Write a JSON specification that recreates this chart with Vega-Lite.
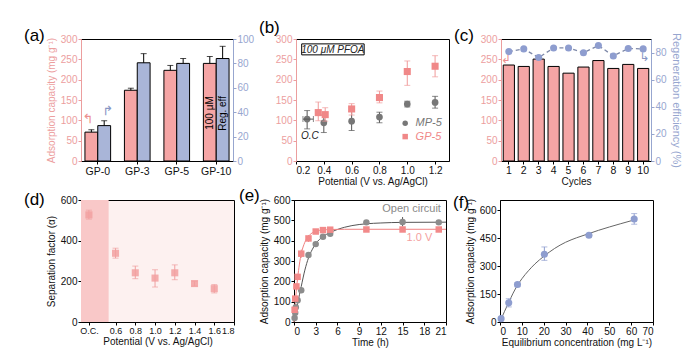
{
 "$schema": "https://vega.github.io/schema/vega-lite/v6.json",
 "padding": {"left": 23, "top": 18, "right": 0, "bottom": 0},
 "background": "white",
 "config": {
  "font": "Liberation Sans",
  "view": {"stroke": "black", "strokeWidth": 1},
  "axis": {"labelFontSize": 10, "titleFontSize": 10, "titleFontWeight": "normal", "labelColor": "#111", "titleColor": "#111", "domainColor": "black", "tickColor": "black", "tickSize": 3, "grid": false, "labelPadding": 1, "titlePadding": 1, "labelOverlap": false},
  "title": {"fontSize": 17, "fontWeight": "normal", "anchor": "start", "frame": "group", "baseline": "middle", "offset": 0, "color": "black"}
 },
 "spacing": -1,
 "vconcat": [
  {
   "spacing": 3,
   "hconcat": [
    {
     "width": 152, "height": 122,
     "title": {"text": "(a)", "dx": -57, "dy": 15},
     "layer": [
      {
       "data": {"values": [
        {"g": "GP-0", "s": "cap", "v": 71, "hi": 77},
        {"g": "GP-3", "s": "cap", "v": 174, "hi": 179},
        {"g": "GP-5", "s": "cap", "v": 223, "hi": 235},
        {"g": "GP-10", "s": "cap", "v": 240, "hi": 257}
       ]},
       "encoding": {
        "x": {"field": "g", "type": "nominal", "scale": {"domain": ["GP-0", "GP-3", "GP-5", "GP-10"], "paddingInner": 0.35, "paddingOuter": 0.1}, "axis": {"title": null, "labelAngle": 0, "labelFontSize": 10.5, "labelPadding": 2}},
        "xOffset": {"field": "s", "type": "nominal", "scale": {"domain": ["cap", "eff"], "paddingInner": 0, "paddingOuter": 0}},
        "y": {"field": "v", "type": "quantitative", "scale": {"domain": [0, 300], "nice": false}, "axis": {"orient": "left", "title": "Adsorption capacity (mg g⁻¹)", "titlePadding": 4, "labelOverlap": false, "values": [0, 50, 100, 150, 200, 250, 300], "titleColor": "#ec9e9e", "labelColor": "#ec9e9e", "domainColor": "#ec9e9e", "tickColor": "#ec9e9e"}}
       },
       "layer": [
        {"mark": {"type": "bar", "fill": "#f5a5a5", "stroke": "black", "strokeWidth": 1}},
        {"mark": {"type": "rule", "color": "black"}, "encoding": {"y2": {"field": "hi"}}},
        {"mark": {"type": "tick", "orient": "horizontal", "color": "black", "size": 6, "thickness": 1}, "encoding": {"y": {"field": "hi", "type": "quantitative"}}},
        {"data": {"values": [{"g": "GP-10", "s": "cap", "v": 118, "t": "100 μM"}]}, "mark": {"type": "text", "angle": 270, "fontSize": 10, "color": "black"}, "encoding": {"text": {"field": "t"}}},
        {"data": {"values": [{"g": "GP-0", "s": "cap", "v": 103, "t": "↰"}]}, "mark": {"type": "text", "align": "right", "font": "DejaVu Sans", "fontSize": 13, "color": "#ec8f8f", "dx": 2}, "encoding": {"text": {"field": "t"}}}
       ]
      },
      {
       "data": {"values": [
        {"g": "GP-0", "s": "eff", "v": 29, "hi": 33},
        {"g": "GP-3", "s": "eff", "v": 80.5, "hi": 88},
        {"g": "GP-5", "s": "eff", "v": 80, "hi": 84},
        {"g": "GP-10", "s": "eff", "v": 84, "hi": 94}
       ]},
       "encoding": {
        "x": {"field": "g", "type": "nominal"},
        "xOffset": {"field": "s", "type": "nominal"},
        "y": {"field": "v", "type": "quantitative", "scale": {"domain": [0, 100], "nice": false}, "axis": {"orient": "right", "title": null, "labelOverlap": false, "values": [0, 20, 40, 60, 80, 100], "labelColor": "#97a6cf", "domainColor": "#97a6cf", "tickColor": "#97a6cf"}}
       },
       "layer": [
        {"mark": {"type": "bar", "fill": "#a9b5d8", "stroke": "black", "strokeWidth": 1}},
        {"mark": {"type": "rule", "color": "black"}, "encoding": {"y2": {"field": "hi"}}},
        {"mark": {"type": "tick", "orient": "horizontal", "color": "black", "size": 6, "thickness": 1}, "encoding": {"y": {"field": "hi", "type": "quantitative"}}},
        {"data": {"values": [{"g": "GP-10", "s": "eff", "v": 39, "t": "Reg. eff"}]}, "mark": {"type": "text", "angle": 270, "fontSize": 10, "color": "black"}, "encoding": {"text": {"field": "t"}}},
        {"data": {"values": [{"g": "GP-0", "s": "eff", "v": 41, "t": "↱"}]}, "mark": {"type": "text", "align": "left", "font": "DejaVu Sans", "fontSize": 13, "color": "#8796c4", "dx": -2}, "encoding": {"text": {"field": "t"}}}
       ]
      }
     ],
     "resolve": {"scale": {"y": "independent"}}
    },
    {
     "width": 153, "height": 122,
     "title": {"text": "(b)", "dx": -37, "dy": 7},
     "encoding": {
      "x": {"field": "x", "type": "quantitative", "scale": {"domain": [0.2, 1.3], "nice": false}, "axis": {"title": "Potential (V vs. Ag/AgCl)", "labelOverlap": false, "values": [0.2, 0.4, 0.6, 0.8, 1.0, 1.2], "format": ".1f"}},
      "y": {"field": "y", "type": "quantitative", "scale": {"domain": [0, 300], "nice": false}, "axis": {"title": null, "labelOverlap": false, "values": [0, 50, 100, 150, 200, 250, 300], "labelColor": "#ec9e9e", "domainColor": "#ec9e9e", "tickColor": "#ec9e9e"}}
     },
     "layer": [
      {
       "data": {"values": [{"x": 0.241, "x2": 0.69, "y": 261, "y2": 288}]},
       "mark": {"type": "rect", "fill": "white", "stroke": "black", "strokeWidth": 1},
       "encoding": {"x2": {"field": "x2"}, "y2": {"field": "y2"}}
      },
      {
       "data": {"values": [{"x": 0.465, "y": 274, "t": "100 μM PFOA"}, {"x": 0.3, "y": 62, "t": "O.C"}]},
       "mark": {"type": "text", "fontStyle": "italic", "fontSize": 10, "color": "#222"},
       "encoding": {"text": {"field": "t"}}
      },
      {
       "data": {"values": [
        {"x": 0.28, "y": 103, "lo": 79, "hi": 124},
        {"x": 0.4, "y": 94, "lo": 70, "hi": 113},
        {"x": 0.6, "y": 98, "lo": 75, "hi": 122},
        {"x": 0.8, "y": 108, "lo": 94, "hi": 120},
        {"x": 1.0, "y": 140, "lo": 133, "hi": 147},
        {"x": 1.2, "y": 144, "lo": 130, "hi": 159}
       ]},
       "layer": [
        {"mark": {"type": "rule", "color": "#555"}, "encoding": {"y": {"field": "lo", "type": "quantitative"}, "y2": {"field": "hi"}}},
        {"mark": {"type": "tick", "orient": "horizontal", "color": "#555", "size": 6, "thickness": 1}, "encoding": {"y": {"field": "lo", "type": "quantitative"}}},
        {"mark": {"type": "tick", "orient": "horizontal", "color": "#555", "size": 6, "thickness": 1}, "encoding": {"y": {"field": "hi", "type": "quantitative"}}},
        {"mark": {"type": "point", "shape": "circle", "filled": true, "color": "#777", "size": 45, "opacity": 1}}
       ]
      },
      {
       "data": {"values": [{"y": 103, "xlo": 0.25, "xhi": 0.325}]},
       "layer": [
        {"mark": {"type": "rule", "color": "#555"}, "encoding": {"x": {"field": "xlo", "type": "quantitative"}, "x2": {"field": "xhi"}}},
        {"mark": {"type": "tick", "orient": "vertical", "color": "#555", "size": 6, "thickness": 1}, "encoding": {"x": {"field": "xlo", "type": "quantitative"}}},
        {"mark": {"type": "tick", "orient": "vertical", "color": "#555", "size": 6, "thickness": 1}, "encoding": {"x": {"field": "xhi", "type": "quantitative"}}}
       ]
      },
      {
       "data": {"values": [
        {"x": 0.36, "y": 119, "lo": 99, "hi": 145},
        {"x": 0.41, "y": 114, "lo": 98, "hi": 131},
        {"x": 0.6, "y": 128, "lo": 113, "hi": 141},
        {"x": 0.8, "y": 156, "lo": 143, "hi": 172},
        {"x": 1.0, "y": 220, "lo": 186, "hi": 246},
        {"x": 1.2, "y": 233, "lo": 207, "hi": 259}
       ]},
       "layer": [
        {"mark": {"type": "rule", "color": "#f09a9a"}, "encoding": {"y": {"field": "lo", "type": "quantitative"}, "y2": {"field": "hi"}}},
        {"mark": {"type": "tick", "orient": "horizontal", "color": "#f09a9a", "size": 6, "thickness": 1}, "encoding": {"y": {"field": "lo", "type": "quantitative"}}},
        {"mark": {"type": "tick", "orient": "horizontal", "color": "#f09a9a", "size": 6, "thickness": 1}, "encoding": {"y": {"field": "hi", "type": "quantitative"}}},
        {"mark": {"type": "point", "shape": "square", "filled": true, "color": "#f08888", "size": 50, "opacity": 1}}
       ]
      },
      {
       "data": {"values": [
        {"x": 0.985, "y": 93, "tx": 1.06, "t": "MP-5", "s": "MP"},
        {"x": 0.985, "y": 60, "tx": 1.06, "t": "GP-5", "s": "GP"}
       ]},
       "layer": [
        {"mark": {"type": "point", "filled": true, "size": 30, "opacity": 1}, "encoding": {"shape": {"field": "s", "type": "nominal", "scale": {"domain": ["MP", "GP"], "range": ["circle", "square"]}, "legend": null}, "color": {"field": "s", "type": "nominal", "scale": {"domain": ["MP", "GP"], "range": ["#777", "#f08888"]}, "legend": null}}},
        {"mark": {"type": "text", "align": "left", "fontStyle": "italic", "fontSize": 11}, "encoding": {"x": {"field": "tx", "type": "quantitative"}, "text": {"field": "t"}, "color": {"field": "s", "type": "nominal", "scale": {"domain": ["MP", "GP"], "range": ["#777", "#f08888"]}, "legend": null}}}
       ]
      }
     ]
    },
    {
     "width": 150, "height": 122,
     "title": {"text": "(c)", "dx": -47, "dy": 16},
     "data": {"values": [
      {"c": 1, "cap": 236, "eff": 80.7}, {"c": 2, "cap": 232.5, "eff": 82.7}, {"c": 3, "cap": 250.6, "eff": 76.3},
      {"c": 4, "cap": 232.5, "eff": 83.4}, {"c": 5, "cap": 216, "eff": 83.4}, {"c": 6, "cap": 231, "eff": 79.8},
      {"c": 7, "cap": 247, "eff": 85.2}, {"c": 8, "cap": 227.6, "eff": 77.5}, {"c": 9, "cap": 237.5, "eff": 83},
      {"c": 10, "cap": 227.6, "eff": 82.7}
     ]},
     "encoding": {"x": {"field": "c", "type": "ordinal", "scale": {"paddingInner": 0.25, "paddingOuter": 0.15}, "axis": {"title": "Cycles", "labelAngle": 0, "labelFontSize": 10.5}}},
     "layer": [
      {
       "encoding": {"y": {"field": "cap", "type": "quantitative", "scale": {"domain": [0, 300], "nice": false}, "axis": {"orient": "left", "title": null, "labelOverlap": false, "values": [0, 50, 100, 150, 200, 250, 300], "labelColor": "#ec9e9e", "domainColor": "#ec9e9e", "tickColor": "#ec9e9e"}}},
       "layer": [
        {"mark": {"type": "bar", "fill": "#f5a5a5", "stroke": "black", "strokeWidth": 1}},
        {"data": {"values": [{"c": 1, "cap": 251, "t": "↲"}]}, "mark": {"type": "text", "font": "DejaVu Sans", "fontSize": 12, "color": "#ec8f8f", "dx": -3}, "encoding": {"text": {"field": "t"}}}
       ]
      },
      {
       "encoding": {"y": {"field": "eff", "type": "quantitative", "scale": {"domain": [0, 90], "nice": false}, "axis": {"orient": "right", "title": "Regeneration efficiency (%)", "titlePadding": 4, "labelOverlap": false, "values": [0, 20, 40, 60, 80], "titleColor": "#97a6cf", "labelColor": "#97a6cf", "domainColor": "#97a6cf", "tickColor": "#97a6cf", "titleFontSize": 11}}},
       "layer": [
        {"mark": {"type": "line", "color": "#7d88a8", "strokeDash": [4, 3], "strokeWidth": 1.3}},
        {"mark": {"type": "point", "shape": "circle", "filled": true, "color": "#8e9dcf", "size": 50, "opacity": 1}},
        {"data": {"values": [{"c": 10, "eff": 77, "t": "↳"}]}, "mark": {"type": "text", "font": "DejaVu Sans", "fontSize": 12, "color": "#8796c4", "dx": 1}, "encoding": {"text": {"field": "t"}}}
       ]
      }
     ],
     "resolve": {"scale": {"y": "independent"}}
    }
   ]
  },
  {
   "spacing": 3,
   "hconcat": [
    {
     "width": 153, "height": 122,
     "title": {"text": "(d)", "dx": -57, "dy": 18},
     "view": {"fill": "#fdf1f0"},
     "encoding": {
      "x": {"field": "x", "type": "quantitative", "scale": {"domain": [0.25, 1.8], "nice": false}, "axis": {"title": "Potential (V vs. Ag/AgCl)", "labelFontSize": 9, "labelOverlap": false, "values": [0.33, 0.6, 0.8, 1.0, 1.2, 1.4, 1.6, 1.8], "labelExpr": "datum.value < 0.5 ? 'O.C.' : format(datum.value, '.1f')"}},
      "y": {"field": "y", "type": "quantitative", "scale": {"domain": [0, 600], "nice": false}, "axis": {"title": "Separation factor (α)", "titlePadding": 4, "labelOverlap": false, "values": [0, 200, 400, 600]}}
     },
     "layer": [
      {
       "data": {"values": [{"x": 0.25, "x2": 0.53, "y": 0, "y2": 600}]},
       "mark": {"type": "rect", "fill": "#f9c8c8"},
       "encoding": {"x2": {"field": "x2"}, "y2": {"field": "y2"}}
      },
      {
       "data": {"values": [
        {"x": 0.33, "y": 527, "lo": 506, "hi": 550},
        {"x": 0.6, "y": 338, "lo": 314, "hi": 363},
        {"x": 0.8, "y": 242, "lo": 213, "hi": 275},
        {"x": 1.0, "y": 216, "lo": 172, "hi": 257},
        {"x": 1.2, "y": 242, "lo": 208, "hi": 281},
        {"x": 1.4, "y": 189, "lo": 177, "hi": 200},
        {"x": 1.6, "y": 164, "lo": 143, "hi": 184}
       ]},
       "layer": [
        {"mark": {"type": "rule", "color": "#f0a0a0"}, "encoding": {"y": {"field": "lo", "type": "quantitative"}, "y2": {"field": "hi"}}},
        {"mark": {"type": "tick", "orient": "horizontal", "color": "#f0a0a0", "size": 6, "thickness": 1}, "encoding": {"y": {"field": "lo", "type": "quantitative"}}},
        {"mark": {"type": "tick", "orient": "horizontal", "color": "#f0a0a0", "size": 6, "thickness": 1}, "encoding": {"y": {"field": "hi", "type": "quantitative"}}},
        {"mark": {"type": "point", "shape": "square", "filled": true, "color": "#f2a0a0", "size": 50, "opacity": 0.85}}
       ]
      }
     ]
    },
    {
     "width": 152, "height": 122,
     "title": {"text": "(e)", "dx": -55, "dy": 14},
     "encoding": {
      "x": {"field": "t", "type": "quantitative", "scale": {"domain": [0, 21], "nice": false}, "axis": {"title": "Time (h)", "labelOverlap": false, "values": [0, 3, 6, 9, 12, 15, 18, 21]}},
      "y": {"field": "q", "type": "quantitative", "scale": {"domain": [0, 600], "nice": false}, "axis": {"title": "Adsorption capacity (mg g⁻¹)", "titlePadding": 4, "labelOverlap": false, "values": [0, 100, 200, 300, 400, 500, 600]}}
     },
     "layer": [
      {
       "data": {"values": [
        {"s": "OC", "t": 0, "q": 0}, {"s": "OC", "t": 0.25, "q": 40}, {"s": "OC", "t": 0.5, "q": 90}, {"s": "OC", "t": 1, "q": 175},
        {"s": "OC", "t": 1.5, "q": 255}, {"s": "OC", "t": 2, "q": 315}, {"s": "OC", "t": 2.5, "q": 355}, {"s": "OC", "t": 3, "q": 385},
        {"s": "OC", "t": 4, "q": 420}, {"s": "OC", "t": 5, "q": 440}, {"s": "OC", "t": 6, "q": 455}, {"s": "OC", "t": 7, "q": 466},
        {"s": "OC", "t": 8, "q": 474}, {"s": "OC", "t": 10, "q": 483}, {"s": "OC", "t": 12, "q": 487}, {"s": "OC", "t": 15, "q": 490}, {"s": "OC", "t": 21, "q": 491},
        {"s": "V", "t": 0, "q": 0}, {"s": "V", "t": 0.25, "q": 125}, {"s": "V", "t": 0.5, "q": 215}, {"s": "V", "t": 0.75, "q": 285},
        {"s": "V", "t": 1, "q": 335}, {"s": "V", "t": 1.5, "q": 392}, {"s": "V", "t": 2, "q": 422}, {"s": "V", "t": 2.5, "q": 438},
        {"s": "V", "t": 3, "q": 446}, {"s": "V", "t": 4, "q": 453}, {"s": "V", "t": 5, "q": 455}, {"s": "V", "t": 7, "q": 456}, {"s": "V", "t": 21, "q": 456}
       ]},
       "mark": {"type": "line", "interpolate": "monotone", "strokeWidth": 1},
       "encoding": {
        "color": {"field": "s", "type": "nominal", "scale": {"domain": ["OC", "V"], "range": ["#555555", "#f08080"]}, "legend": null},
        "detail": {"field": "s"}
       }
      },
      {
       "data": {"values": [
        {"s": "OC", "t": 0.083, "q": 20, "lo": 15, "hi": 25}, {"s": "OC", "t": 0.167, "q": 45, "lo": 40, "hi": 50}, {"s": "OC", "t": 0.25, "q": 72, "lo": 66, "hi": 78},
        {"s": "OC", "t": 0.5, "q": 107, "lo": 98, "hi": 116}, {"s": "OC", "t": 1, "q": 156, "lo": 148, "hi": 164}, {"s": "OC", "t": 2, "q": 329, "lo": 318, "hi": 340},
        {"s": "OC", "t": 3, "q": 383, "lo": 372, "hi": 394}, {"s": "OC", "t": 4, "q": 419, "lo": 412, "hi": 426}, {"s": "OC", "t": 5, "q": 434, "lo": 428, "hi": 440},
        {"s": "OC", "t": 10, "q": 490, "lo": 483, "hi": 497}, {"s": "OC", "t": 15, "q": 492, "lo": 470, "hi": 516}, {"s": "OC", "t": 20, "q": 490, "lo": 483, "hi": 497},
        {"s": "V", "t": 0.083, "q": 60, "lo": 52, "hi": 68}, {"s": "V", "t": 0.167, "q": 115, "lo": 106, "hi": 124}, {"s": "V", "t": 0.33, "q": 175, "lo": 165, "hi": 185},
        {"s": "V", "t": 0.5, "q": 222, "lo": 210, "hi": 234}, {"s": "V", "t": 1, "q": 336, "lo": 316, "hi": 356}, {"s": "V", "t": 2, "q": 411, "lo": 394, "hi": 428},
        {"s": "V", "t": 3, "q": 445, "lo": 437, "hi": 453}, {"s": "V", "t": 4, "q": 452, "lo": 446, "hi": 458}, {"s": "V", "t": 5, "q": 454, "lo": 448, "hi": 460},
        {"s": "V", "t": 10, "q": 455, "lo": 449, "hi": 461}, {"s": "V", "t": 15, "q": 455, "lo": 449, "hi": 461}, {"s": "V", "t": 20, "q": 455, "lo": 449, "hi": 461}
       ]},
       "encoding": {
        "color": {"field": "s", "type": "nominal", "scale": {"domain": ["OC", "V"], "range": ["#555555", "#f08080"]}, "legend": null}
       },
       "layer": [
        {"mark": {"type": "rule"}, "encoding": {"y": {"field": "lo", "type": "quantitative"}, "y2": {"field": "hi"}}},
        {"mark": {"type": "point", "filled": true, "size": 42, "opacity": 1}, "encoding": {"shape": {"field": "s", "type": "nominal", "scale": {"domain": ["OC", "V"], "range": ["square", "circle"]}, "legend": null}, "fill": {"field": "s", "type": "nominal", "scale": {"domain": ["OC", "V"], "range": ["#8c8c8c", "#f28a8a"]}, "legend": null}}}
       ]
      },
      {
       "data": {"values": [{"t": 20.3, "q": 558, "l": "Open circuit", "s": "OC"}, {"t": 19.1, "q": 411, "l": "1.0 V", "s": "V"}]},
       "mark": {"type": "text", "align": "right", "fontSize": 11},
       "encoding": {
        "text": {"field": "l"},
        "color": {"field": "s", "type": "nominal", "scale": {"domain": ["OC", "V"], "range": ["#8a8a8a", "#f4a0a0"]}, "legend": null}
       }
      }
     ],
     "resolve": {"scale": {"color": "independent"}}
    },
    {
     "width": 153, "height": 122,
     "title": {"text": "(f)", "dx": -47, "dy": 18},
     "encoding": {
      "x": {"field": "c", "type": "quantitative", "scale": {"domain": [0, 70], "nice": false}, "axis": {"title": "Equilibrium concentration (mg L⁻¹)", "labelOverlap": false, "values": [0, 10, 20, 30, 40, 50, 60, 70]}},
      "y": {"field": "q", "type": "quantitative", "scale": {"domain": [0, 655], "nice": false}, "axis": {"title": "Adsorption capacity (mg g⁻¹)", "titlePadding": 4, "labelOverlap": false, "values": [0, 150, 300, 450, 600]}}
     },
     "layer": [
      {
       "data": {"values": [
        {"c": 0, "q": 0}, {"c": 2, "q": 55}, {"c": 4, "q": 105}, {"c": 6, "q": 155}, {"c": 8, "q": 197}, {"c": 10, "q": 232},
        {"c": 13, "q": 275}, {"c": 16, "q": 312}, {"c": 20, "q": 352}, {"c": 25, "q": 395}, {"c": 30, "q": 428}, {"c": 35, "q": 452},
        {"c": 40, "q": 472}, {"c": 45, "q": 492}, {"c": 50, "q": 510}, {"c": 55, "q": 527}, {"c": 62, "q": 550}
       ]},
       "mark": {"type": "line", "interpolate": "monotone", "color": "#666", "strokeWidth": 1}
      },
      {
       "data": {"values": [
        {"c": 0.5, "q": 18, "lo": 13, "hi": 23},
        {"c": 4, "q": 103, "lo": 81, "hi": 125},
        {"c": 8, "q": 201, "lo": 190, "hi": 211},
        {"c": 20.3, "q": 364, "lo": 331, "hi": 403},
        {"c": 40.7, "q": 466, "lo": 458, "hi": 474},
        {"c": 61.4, "q": 553, "lo": 525, "hi": 582}
       ]},
       "layer": [
        {"mark": {"type": "rule", "color": "#8e9dcf"}, "encoding": {"y": {"field": "lo", "type": "quantitative"}, "y2": {"field": "hi"}}},
        {"mark": {"type": "tick", "orient": "horizontal", "color": "#8e9dcf", "size": 6, "thickness": 1}, "encoding": {"y": {"field": "lo", "type": "quantitative"}}},
        {"mark": {"type": "tick", "orient": "horizontal", "color": "#8e9dcf", "size": 6, "thickness": 1}, "encoding": {"y": {"field": "hi", "type": "quantitative"}}},
        {"mark": {"type": "point", "shape": "circle", "filled": true, "color": "#8e9dcf", "size": 50, "opacity": 1}}
       ]
      }
     ]
    }
   ]
  }
 ]
}
